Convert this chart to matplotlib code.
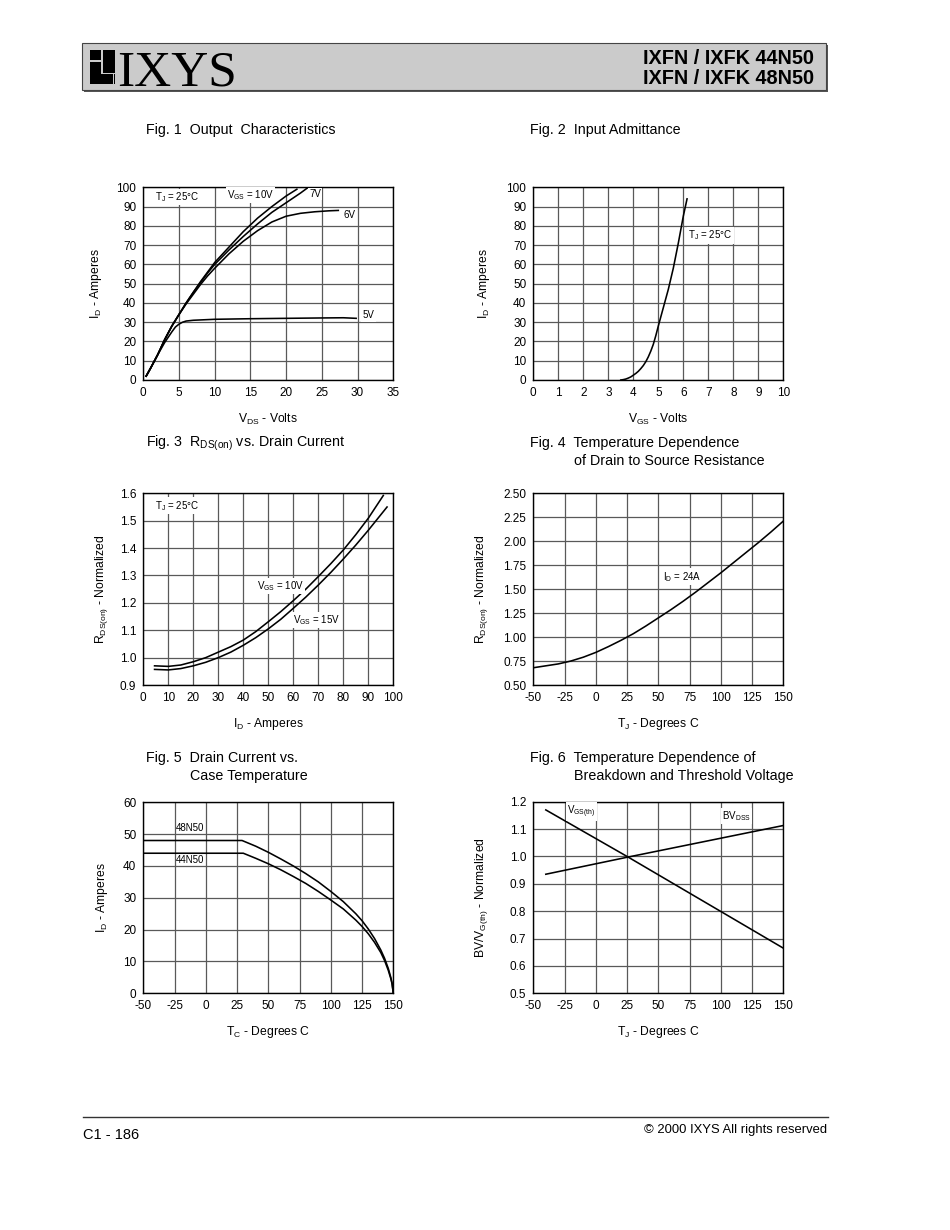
import matplotlib
matplotlib.use("Agg")
import matplotlib.pyplot as plt
from matplotlib.patches import Rectangle
from matplotlib.ticker import FormatStrFormatter

W, H = 950, 1230

plt.rcParams["font.family"] = ["Liberation Sans", "DejaVu Sans"]
plt.rcParams["mathtext.fontset"] = "custom"
plt.rcParams["mathtext.rm"] = "Liberation Sans"
plt.rcParams["axes.unicode_minus"] = False

# fig 1 - output characteristics
vds_10v = [0.4, 1, 2, 3, 4, 5, 6, 7, 8, 9, 10, 12, 14, 16, 18, 20, 21.5]
id_10v = [2, 6, 13, 21, 28, 34, 40, 45.5, 51, 56, 61, 69, 77, 84, 90, 95.5, 99]
vds_7v = [0.4, 1, 2, 3, 4, 5, 6, 7, 8, 9, 10, 12, 14, 16, 18, 20, 22, 23.1]
id_7v = [2, 6, 13, 21, 28, 34, 40, 45.5, 50.5, 55.5, 60, 67.5, 74.5, 81, 87, 92, 97, 100]
vds_6v = [0.4, 1, 2, 3, 4, 5, 6, 7, 8, 9, 10, 12, 14, 16, 18, 20, 22, 24, 26, 27.3]
id_6v = [2, 6, 13, 21, 28, 34, 39.5, 44.5, 49.5, 54, 58, 65.5, 72, 77.5, 82, 85, 86.5, 87.3, 87.8, 88]
vds_5v = [0.4, 1, 2, 3, 4, 4.5, 5, 5.5, 6, 7, 10, 15, 20, 25, 28, 29.8]
id_5v = [2, 6, 13, 19.5, 25, 27.5, 29, 30, 30.6, 31, 31.5, 31.8, 32, 32.2, 32.3, 32]

# fig 2 - input admittance
vgs_in = [3.5, 3.6, 3.7, 3.8, 3.9, 4.0, 4.1, 4.2, 4.3, 4.4, 4.5, 4.6, 4.7, 4.8, 4.9,
          5.0, 5.2, 5.4, 5.6, 5.8, 6.0, 6.15]
id_in = [0, 0.2, 0.5, 1, 1.6, 2.5, 3.4, 4.5, 5.9, 7.5, 9.5, 12, 15, 18.5, 23,
         28, 37.5, 47, 58, 71, 85, 94]

# fig 3 - rds(on) vs drain current
id_r10 = [4.5, 10, 15, 20, 25, 30, 35, 40, 45, 50, 55, 60, 65, 70, 75, 80, 85, 90, 96]
rds_10v = [0.970, 0.968, 0.973, 0.985, 1.0, 1.02, 1.04, 1.064, 1.095, 1.131, 1.168,
           1.208, 1.25, 1.296, 1.343, 1.393, 1.449, 1.509, 1.592]
id_r15 = [4.5, 10, 15, 20, 25, 30, 35, 40, 45, 50, 55, 60, 65, 70, 75, 80, 85, 90, 97.5]
rds_15v = [0.957, 0.955, 0.960, 0.970, 0.983, 1.0, 1.02, 1.045, 1.073, 1.105, 1.14,
           1.18, 1.221, 1.265, 1.311, 1.36, 1.411, 1.465, 1.55]

# fig 4 - rds(on) vs temperature
tj_r = [-50, -40, -30, -20, -10, 0, 10, 20, 30, 40, 50, 60, 70, 80, 90, 100,
        110, 120, 130, 140, 150]
rds_t = [0.68, 0.70, 0.72, 0.75, 0.79, 0.84, 0.90, 0.965, 1.035, 1.115, 1.2, 1.285,
         1.375, 1.47, 1.57, 1.67, 1.775, 1.88, 1.985, 2.095, 2.21]

# fig 5 - drain current vs case temperature
tc_48 = [-50, 29, 40, 50, 60, 70, 80, 90, 100, 110, 120, 125, 130, 135, 140, 143,
         146, 148, 149, 150]
id_48 = [48, 48, 46.2, 44.3, 42.2, 40, 37.6, 35, 32, 28.8, 25, 22.8, 20.2, 17.2,
         13.6, 11, 7.8, 5, 3.2, 0]
tc_44 = [-50, 30, 40, 50, 60, 70, 80, 90, 100, 110, 120, 125, 130, 135, 140, 143,
         146, 148, 149, 150]
id_44 = [44, 44, 42.4, 40.7, 38.8, 36.7, 34.5, 32, 29.3, 26.5, 23, 21, 18.7, 16,
         12.8, 10.3, 7.2, 4.6, 3, 0]

# fig 6 - breakdown and threshold voltage
tj_v = [-40, 25, 150]
vgs_th = [1.17, 1.0, 0.665]
bv_dss = [0.935, 0.997, 1.113]

LABEL_FS = 8.7
NOTE_FS = 7
TITLE_FS = 10.3
TICK_FS = 8.5


def add_panel(fig, left, top, right, bottom):
    return fig.add_axes([left / W, 1 - bottom / H, (right - left) / W, (bottom - top) / H])


def style(ax, xlim, xticks, ylim, yticks, xlabel, ylabel, ylab_off, yfmt=None):
    ax.set_xlim(xlim)
    ax.set_ylim(ylim)
    ax.set_xticks(xticks)
    ax.set_yticks(yticks)
    if yfmt:
        ax.yaxis.set_major_formatter(FormatStrFormatter(yfmt))
    ax.grid(True, color="0.35", lw=0.9)
    ax.set_axisbelow(True)
    ax.tick_params(length=0, labelsize=TICK_FS, pad=5)
    for s in ax.spines.values():
        s.set_linewidth(1.0)
    w = ax.get_position().width * W
    h = ax.get_position().height * H
    ax.set_xlabel(xlabel, fontsize=LABEL_FS)
    ax.set_ylabel(ylabel, fontsize=LABEL_FS)
    ax.xaxis.set_label_coords(0.5, -39 / h)
    ax.xaxis.label.set_va("center")
    ax.yaxis.set_label_coords(-ylab_off / w, 0.5)
    ax.yaxis.label.set_va("center")


def note(ax, x, y, s, box=True):
    kw = dict(fontsize=NOTE_FS, va="center", ha="left")
    if box:
        kw["bbox"] = dict(fc="white", ec="none", pad=1)
    ax.text(x, y, s, **kw)


fig = plt.figure(figsize=(W / 100, H / 100), dpi=100)

# page decoration in pixel coordinates
page = fig.add_axes([0, 0, 1, 1], zorder=-1)
page.set_xlim(0, W)
page.set_ylim(H, 0)
page.axis("off")
page.add_patch(Rectangle((84, 45), 744, 47, fc="#555555", ec="none"))
page.add_patch(Rectangle((82, 43), 744, 47, fc="#cbcbcb", ec="#444444", lw=0.8))
for x0, y0, x1, y1 in [(90, 50, 101, 60), (90, 61.5, 101, 84), (90, 74, 112.5, 84),
                       (102.5, 50, 115, 73), (113.7, 74, 115, 84)]:
    page.add_patch(Rectangle((x0, y0), x1 - x0, y1 - y0, fc="black", ec="none"))
page.text(117, 85, "IXYS", family=["Liberation Serif", "DejaVu Serif"], fontsize=37,
          va="baseline", ha="left")
hdr = dict(fontweight="bold", fontsize=14.3, ha="right", va="baseline")
page.text(814, 64, "IXFN / IXFK 44N50", **hdr)
page.text(814, 84, "IXFN / IXFK 48N50", **hdr)
page.plot([83, 828], [1117, 1117], color="#333333", lw=1.0)
page.text(83, 1139, "C1 - 186", fontsize=10.5, va="baseline")
page.text(827, 1133, "© 2000 IXYS All rights reserved", fontsize=9.4,
          ha="right", va="baseline")

# figure titles
tt = dict(fontsize=TITLE_FS, va="baseline")
page.text(146, 134, "Fig. 1  Output  Characteristics", **tt)
page.text(530, 134, "Fig. 2  Input Admittance", **tt)
page.text(146, 447, r"Fig. 3  R$_{\mathregular{DS(on)}}$ vs. Drain Current", **tt)
page.text(530, 447, "Fig. 4  Temperature Dependence", **tt)
page.text(574, 465, "of Drain to Source Resistance", **tt)
page.text(146, 762, "Fig. 5  Drain Current vs.", **tt)
page.text(190, 780, "Case Temperature", **tt)
page.text(530, 762, "Fig. 6  Temperature Dependence of", **tt)
page.text(574, 780, "Breakdown and Threshold Voltage", **tt)

lw = 1.15

# Fig. 1
ax1 = add_panel(fig, 143.3, 187.3, 393.3, 380)
ax1.plot(vds_10v, id_10v, color="black", lw=lw)
ax1.plot(vds_7v, id_7v, color="black", lw=lw)
ax1.plot(vds_6v, id_6v, color="black", lw=lw)
ax1.plot(vds_5v, id_5v, color="black", lw=lw)
style(ax1, (0, 35), range(0, 36, 5), (0, 100), range(0, 101, 10),
      r"V$_{\mathregular{DS}}$ - Volts", r"I$_{\mathregular{D}}$ - Amperes", 47)
note(ax1, 1.65, 95, r"T$_{\mathregular{J}}$ = 25°C")
note(ax1, 11.7, 96, r"V$_{\mathregular{GS}}$ = 10V")
note(ax1, 23.2, 96.5, "7V")
note(ax1, 28.0, 85.5, "6V")
note(ax1, 30.7, 33.5, "5V")

# Fig. 2
ax2 = add_panel(fig, 533.3, 187.3, 783.3, 380)
ax2.plot(vgs_in, id_in, color="black", lw=lw)
style(ax2, (0, 10), range(0, 11), (0, 100), range(0, 101, 10),
      r"V$_{\mathregular{GS}}$ - Volts", r"I$_{\mathregular{D}}$ - Amperes", 49)
note(ax2, 6.2, 75, r"T$_{\mathregular{J}}$ = 25°C")

# Fig. 3
ax3 = add_panel(fig, 143.3, 493.3, 393.3, 685)
ax3.plot(id_r10, rds_10v, color="black", lw=lw)
ax3.plot(id_r15, rds_15v, color="black", lw=lw)
style(ax3, (0, 100), range(0, 101, 10), (0.9, 1.6), [0.9 + 0.1 * i for i in range(8)],
      r"I$_{\mathregular{D}}$ - Amperes", r"R$_{\mathregular{DS(on)}}$ - Normalized", 41.6, "%.1f")
note(ax3, 4.7, 1.555, r"T$_{\mathregular{J}}$ = 25°C")
note(ax3, 45.3, 1.262, r"V$_{\mathregular{GS}}$ = 10V")
note(ax3, 60, 1.137, r"V$_{\mathregular{GS}}$ = 15V")

# Fig. 4
ax4 = add_panel(fig, 533.3, 493.3, 783.3, 685)
ax4.plot(tj_r, rds_t, color="black", lw=lw)
style(ax4, (-50, 150), range(-50, 151, 25), (0.5, 2.5), [0.5 + 0.25 * i for i in range(9)],
      r"T$_{\mathregular{J}}$ - Degrees C", r"R$_{\mathregular{DS(on)}}$ - Normalized", 51.6, "%.2f")
note(ax4, 54, 1.63, r"I$_{\mathregular{D}}$ = 24A")

# Fig. 5
ax5 = add_panel(fig, 143.3, 802.3, 393.3, 993.3)
ax5.plot(tc_48, id_48, color="black", lw=lw)
ax5.plot(tc_44, id_44, color="black", lw=lw)
style(ax5, (-50, 150), range(-50, 151, 25), (0, 60), range(0, 61, 10),
      r"T$_{\mathregular{C}}$ - Degrees C", r"I$_{\mathregular{D}}$ - Amperes", 41.6)
note(ax5, -24, 52, "48N50", box=False)
note(ax5, -24, 41.8, "44N50", box=False)

# Fig. 6
ax6 = add_panel(fig, 533.3, 801.7, 783.3, 993.3)
ax6.plot(tj_v, vgs_th, color="black", lw=lw)
ax6.plot(tj_v, bv_dss, color="black", lw=lw)
style(ax6, (-50, 150), range(-50, 151, 25), (0.5, 1.2), [0.5 + 0.1 * i for i in range(8)],
      r"T$_{\mathregular{J}}$ - Degrees C", r"BV/V$_{\mathregular{G(th)}}$ - Normalized", 51.6, "%.1f")
note(ax6, -22.8, 1.163, r"V$_{\mathregular{GS(th)}}$")
note(ax6, 101, 1.147, r"BV$_{\mathregular{DSS}}$")

fig.savefig("out.png", dpi=100)
